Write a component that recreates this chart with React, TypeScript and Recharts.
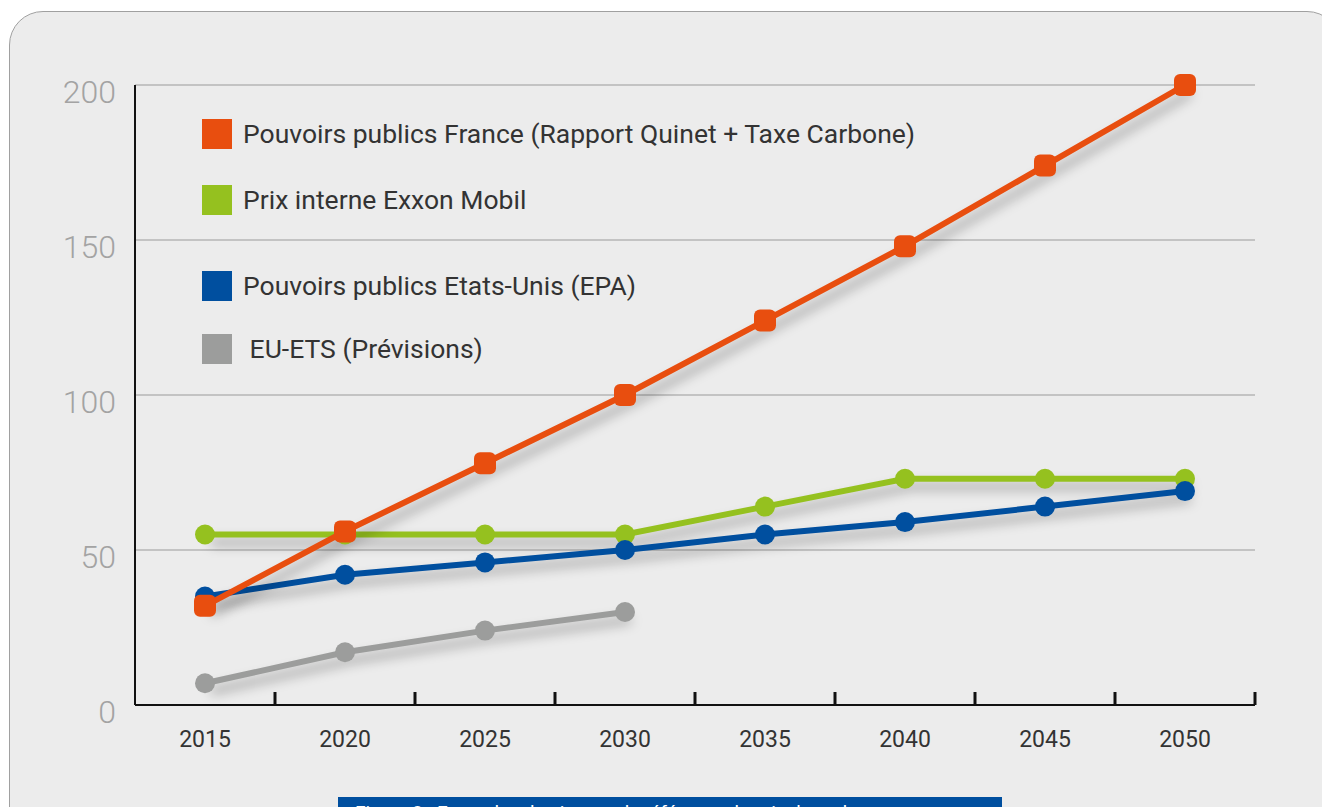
import React from "react";
import { LineChart, Line, XAxis, YAxis, CartesianGrid, Legend } from "recharts";

const years = [2015, 2020, 2025, 2030, 2035, 2040, 2045, 2050];
const france = [32, 56, 78, 100, 124, 148, 174, 200];
const exxon = [55, 55, 55, 55, 64, 73, 73, 73];
const epa = [35, 42, 46, 50, 55, 59, 64, 69];
const euEts = [7, 17, 24, 30, null, null, null, null];
const yTicks = [0, 50, 100, 150, 200];

const data = years.map((year, i) => ({
  year,
  france: france[i],
  exxon: exxon[i],
  epa: epa[i],
  euEts: euEts[i],
}));

// tick marks sit between the years, labels under the years
const xTicks = years.flatMap((y) => [y, y + 2.5]);

const FONT = "Roboto, 'DejaVu Sans', sans-serif";

const series = [
  { key: "euEts", name: " EU-ETS (Prévisions)", color: "#9c9d9c", shape: "circle" },
  { key: "exxon", name: "Prix interne Exxon Mobil", color: "#95c11f", shape: "circle" },
  { key: "epa", name: "Pouvoirs publics Etats-Unis (EPA)", color: "#004f9f", shape: "circle" },
  { key: "france", name: "Pouvoirs publics France (Rapport Quinet + Taxe Carbone)", color: "#e84e0f", shape: "square" },
];

const legendOrder = ["france", "exxon", "epa", "euEts"];
const legendGaps = [0, 66, 86, 63];

function XTick(props: any) {
  const { x, y, payload } = props;
  const v = payload.value;
  if (v % 5 !== 0) {
    return <line x1={x} x2={x} y1={y} y2={y - 13} stroke="#111" strokeWidth={3} />;
  }
  return (
    <text x={x} y={y} dy={42} textAnchor="middle" fill="#333" fontSize={23} fontFamily={FONT}>
      {v}
    </text>
  );
}

function YTick(props: any) {
  const { x, y, payload } = props;
  return (
    <text x={x} y={y} dy={18} textAnchor="end" fill="#a3a3a3" fontSize={32} fontWeight={300} fontFamily={FONT}>
      {payload.value}
    </text>
  );
}

function makeDot(color: string, shape: string) {
  return (p: any) => {
    const { cx, cy, index } = p;
    if (cx == null || cy == null || p.value == null) return <g key={index} />;
    if (shape === "square") {
      return <rect key={index} x={cx - 11} y={cy - 11} width={22} height={22} rx={6} fill={color} />;
    }
    return <circle key={index} cx={cx} cy={cy} r={10} fill={color} />;
  };
}

function LegendBox() {
  let top = 0;
  return (
    <div style={{ position: "relative", fontFamily: FONT }}>
      {legendOrder.map((k, i) => {
        const s = series.find((d) => d.key === k)!;
        top += legendGaps[i];
        return (
          <div key={k} style={{ position: "absolute", left: 0, top, display: "flex", alignItems: "center", whiteSpace: "pre" }}>
            <div style={{ width: 30, height: 30, background: s.color }} />
            <span style={{ marginLeft: 11, fontSize: 26.5, color: "#333" }}>{s.name}</span>
          </div>
        );
      })}
    </div>
  );
}

export default function App() {
  return (
    <div style={{ position: "absolute", left: 0, top: 0, width: 1322, height: 807, background: "#fff", overflow: "hidden" }}>
      <style>{`.recharts-line { filter: drop-shadow(6px 8px 6px rgba(0,0,0,0.32)); }`}</style>
      <div
        style={{
          position: "absolute",
          left: 9,
          top: 11,
          width: 1330,
          height: 900,
          border: "1px solid #a0a0a0",
          borderRadius: 34,
          background: "#ececec",
        }}
      />
      <div style={{ position: "absolute", left: 0, top: 0 }}>
        <LineChart width={1322} height={807} data={data} margin={{ top: 85, right: 67, left: 0, bottom: 0 }}>
          <CartesianGrid vertical={false} stroke="#9a9a9a" strokeWidth={1} />
          <XAxis
            dataKey="year"
            type="number"
            domain={[2012.5, 2052.5]}
            ticks={xTicks}
            interval={0}
            height={102}
            tickSize={0}
            tickMargin={0}
            tickLine={false}
            tick={<XTick />}
            axisLine={{ stroke: "#111", strokeWidth: 2 }}
          />
          <YAxis
            width={135}
            domain={[0, 200]}
            ticks={yTicks}
            interval={0}
            tickSize={0}
            tickMargin={19}
            tickLine={false}
            tick={<YTick />}
            axisLine={{ stroke: "#111", strokeWidth: 2 }}
          />
          <Legend
            content={<LegendBox />}
            wrapperStyle={{ position: "absolute", left: 202, top: 118, width: 800, height: 0 }}
          />
          {series.map((s) => (
            <Line
              key={s.key}
              dataKey={s.key}
              name={s.name}
              stroke={s.color}
              strokeWidth={6}
              dot={makeDot(s.color, s.shape)}
              activeDot={false}
              connectNulls={false}
              isAnimationActive={false}
            />
          ))}
        </LineChart>
      </div>
      <div
        style={{
          position: "absolute",
          left: 338,
          top: 797,
          width: 664,
          height: 40,
          background: "#004f9f",
          color: "#fff",
          fontFamily: FONT,
          fontSize: 19,
          paddingLeft: 17,
          paddingTop: 4,
          boxSizing: "border-box",
        }}
      >
        Figure 3 : Exemples de niveaux de référence du prix du carbone
      </div>
    </div>
  );
}
